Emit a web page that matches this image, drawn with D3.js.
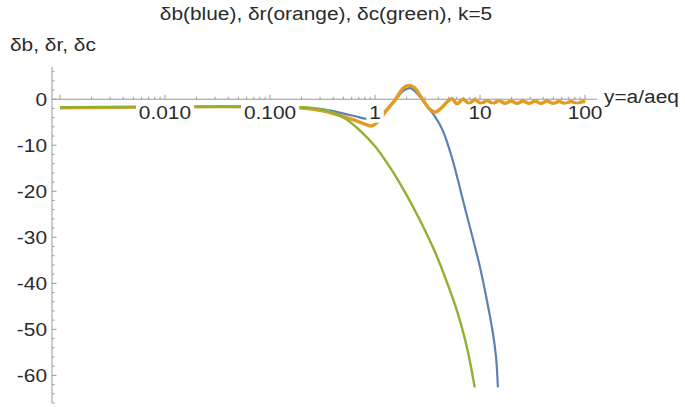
<!DOCTYPE html>
<html>
<head>
<meta charset="utf-8">
<script src="https://cdn.jsdelivr.net/npm/d3@7"></script>
<style>
  body { margin: 0; background: #fff; }
  text { font-family: "Liberation Sans", Arial, sans-serif; fill: #2b2b2b; }
</style>
</head>
<body>
<div id="chart"></div>
<script>
// values (x = a/aeq, log axis)
const blueX = [0.001, 0.193, 0.30, 0.46, 0.645, 0.80, 0.94, 1.07, 1.25, 1.55, 1.85, 2.15, 2.46, 2.80, 3.20, 3.73, 4.44, 5.53, 6.89, 8.38, 10.0, 11.7, 13.3, 14.2, 14.8];
const blueY = [-1.8, -1.8, -2.1, -2.9, -3.7, -4.2, -4.3, -3.8, -2.5, -0.3, 1.8, 2.4, 1.5, 0, -1.8, -3.8, -6.9, -13.5, -22, -29.5, -36.5, -44, -51, -56, -62.6];

const orangeX = [0.001, 0.193, 0.30, 0.46, 0.645, 0.80, 0.94, 1.07, 1.25, 1.55, 1.85, 2.10, 2.40, 2.68, 2.99, 3.34, 3.73, 4.25, 4.85, 5.41, 6.04, 6.89, 7.86, 8.96, 10.2, 11.66, 13.3, 15.17, 17.3, 19.73, 22.5, 25.7, 29.3, 33.4, 38.1, 43.5, 49.6, 56.5, 64.5, 73.6, 83.9, 95.7, 100];
const orangeY = [-1.85, -1.85, -2.4, -3.5, -4.6, -5.4, -5.8, -4.8, -2.8, -0.2, 2.4, 3.0, 2.4, 0.8, -0.8, -2.2, -2.8, -2.0, -0.6, 0.1, -1.0, 0.0, -0.9, -0.1, -0.9, -0.3, -0.9, -0.3, -0.9, -0.4, -0.9, -0.4, -0.9, -0.4, -0.9, -0.4, -0.9, -0.5, -0.9, -0.5, -0.9, -0.5, -0.7];

const greenX = [0.001, 0.193, 0.268, 0.373, 0.518, 0.72, 1.0, 1.39, 1.93, 2.68, 3.73, 4.85, 6.04, 7.16, 8.18, 8.9];
const greenY = [-1.75, -1.75, -2.0, -2.7, -4.2, -6.8, -10.2, -14.8, -20.2, -26.3, -33.2, -39.8, -46, -52, -58, -62.6];

const xTicks = [0.01, 0.1, 1, 10, 100];
const xTickLabels = ["0.010", "0.100", "1", "10", "100"];
const yTicks = [0, -10, -20, -30, -40, -50, -60];

const W = 685, H = 407;
const SX = 1.16; // text in the picture is stretched sideways

const svg = d3.select("#chart").append("svg").attr("width", W).attr("height", H);

const x = d3.scaleLog().domain([0.00084, 130]).range([52, 597]);
const y = d3.scaleLinear().domain([-66, 7]).range([403, 67]);

function label(g, px, py, str, anchor, size = 18) {
  return g.append("g")
    .attr("transform", `translate(${px},${py}) scale(${SX},1)`)
    .append("text")
    .attr("text-anchor", anchor)
    .attr("font-size", size)
    .text(str);
}

// axes
const axisColor = "#9a9a9a";
const axes = svg.append("g").attr("stroke", axisColor).attr("stroke-width", 1);
axes.append("line").attr("x1", x.range()[0]).attr("x2", x.range()[1]).attr("y1", y(0)).attr("y2", y(0));
axes.append("line").attr("x1", x.range()[0]).attr("x2", x.range()[0]).attr("y1", y.range()[0]).attr("y2", y.range()[1]);

// x ticks: decades + minor 2..9
const xMinor = [];
for (let e = -3; e <= 2; e++) {
  for (let m = 1; m <= 9; m++) {
    const v = m * Math.pow(10, e);
    if (v >= x.domain()[0] && v <= x.domain()[1]) xMinor.push({ v, major: m === 1 });
  }
}
axes.selectAll("line.xt").data(xMinor).join("line").attr("class", "xt")
  .attr("x1", (d) => x(d.v)).attr("x2", (d) => x(d.v))
  .attr("y1", y(0)).attr("y2", (d) => y(0) - (d.major ? 4.5 : 2.5));

// y ticks every 2, major every 10
const yMinor = d3.range(-66, 8, 2).map((v) => ({ v, major: v % 10 === 0 }));
axes.selectAll("line.yt").data(yMinor).join("line").attr("class", "yt")
  .attr("y1", (d) => y(d.v)).attr("y2", (d) => y(d.v))
  .attr("x1", x.range()[0]).attr("x2", (d) => x.range()[0] + (d.major ? 4.5 : 2.5));

// curves
const series = [
  { xs: blueX, ys: blueY, color: "#5e81b5", w: 2.2 },
  { xs: orangeX, ys: orangeY, color: "#e19c24", w: 3.4 },
  { xs: greenX, ys: greenY, color: "#8fb032", w: 2.4 },
];
const line = d3.line().x((d) => x(d[0])).y((d) => y(d[1])).curve(d3.curveCatmullRom.alpha(0.5));
svg.append("g").selectAll("path").data(series).join("path")
  .attr("fill", "none")
  .attr("stroke", (s) => s.color)
  .attr("stroke-width", (s) => s.w)
  .attr("stroke-linejoin", "round")
  .attr("d", (s) => line(s.xs.map((v, i) => [v, s.ys[i]])));

// x tick labels with white backing, drawn over the curves
const xl = svg.append("g");
xTicks.forEach((v, i) => {
  const t = label(xl, x(v), 119, xTickLabels[i], "middle");
  const bb = t.node().getBBox();
  t.node().parentNode.insertBefore(
    d3.create("svg:rect")
      .attr("x", bb.x - 2.5).attr("y", bb.y + 2)
      .attr("width", bb.width + 5).attr("height", bb.height - 2)
      .attr("fill", "#fff").node(),
    t.node());
});

// y tick labels
const yl = svg.append("g");
yTicks.forEach((v) => {
  label(yl, 47, y(v) + 6.5, String(v), "end");
});

// titles
label(svg, 326, 20, "δb(blue), δr(orange), δc(green), k=5", "middle");
label(svg, 10, 51, "δb, δr, δc", "start");
label(svg, 604, 103, "y=a/aeq", "start");
</script>
</body>
</html>
